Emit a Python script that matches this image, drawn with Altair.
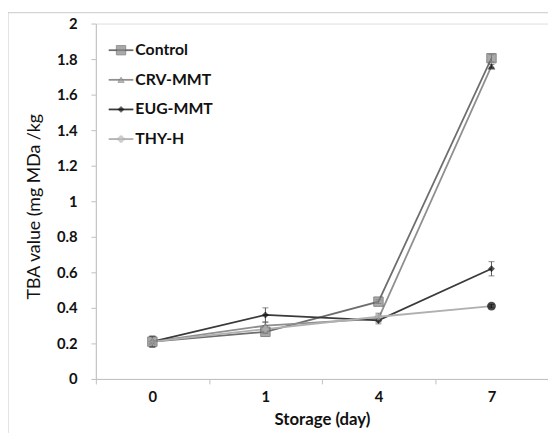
import altair as alt
import pandas as pd

# ---- data ----
days = ["0", "1", "4", "7"]
series_names = ["Control", "CRV-MMT", "EUG-MMT", "THY-H"]
control = [0.21, 0.265, 0.435, 1.805]
crv_mmt = [0.21, 0.30, 0.34, 1.76]
eug_mmt = [0.21, 0.36, 0.33, 0.62]
thy_h = [0.21, 0.28, 0.35, 0.41]
control_err = [0.03, 0.01, 0.01, 0.02]
crv_err = [0.03, 0.02, 0.02, 0.01]
eug_err = [0.03, 0.04, 0.02, 0.04]
thy_err = [0.03, 0.02, 0.02, 0.01]
y_ticks = [0, 0.2, 0.4, 0.6, 0.8, 1.0, 1.2, 1.4, 1.6, 1.8, 2.0]

values = [control, crv_mmt, eug_mmt, thy_h]
errors = [control_err, crv_err, eug_err, thy_err]

rows = []
for name, vals, errs in zip(series_names, values, errors):
    for d, v, e in zip(days, vals, errs):
        rows.append({"series": name, "day": d, "value": v, "lo": v - e, "hi": v + e})
df = pd.DataFrame(rows)

FONT = "Lato"
AXIS_GRAY = "#bfbfbf"
TXT = "#111111"

style = {
    "Control": dict(line="#6e6e6e", shape="square", size=90, fill="#858585", stroke="#555555"),
    "CRV-MMT": dict(line="#8f8f8f", shape="triangle-up", size=40, fill="#9a9a9a", stroke="#777777"),
    "EUG-MMT": dict(line="#3a3a3a", shape="diamond", size=35, fill="#111111", stroke="#111111"),
    "THY-H": dict(line="#b0b0b0", shape="cross", size=40, fill="#c0c0c0", stroke="#aaaaaa"),
}

x_enc = alt.X(
    "day:O",
    sort=days,
    scale=alt.Scale(type="band", paddingInner=0, paddingOuter=0),
    axis=alt.Axis(
        title="Storage (day)",
        labelAngle=0,
        tickBand="extent",
        domainColor=AXIS_GRAY,
        tickColor=AXIS_GRAY,
        tickSize=5,
        labelFont=FONT,
        labelFontWeight="bold",
        labelFontSize=15,
        labelColor=TXT,
        labelPadding=6,
        titleFont=FONT,
        titleFontWeight="bold",
        titleFontSize=17,
        titleColor=TXT,
        titleY=41,
        titleBaseline="middle",
    ),
)
y_scale = alt.Scale(domain=[0, 2], nice=False, zero=True)
y_axis = alt.Axis(
    title="TBA value (mg MDa /kg",
    values=y_ticks,
    format="~g",
    grid=False,
    labelOverlap=False,
    domainColor=AXIS_GRAY,
    tickColor=AXIS_GRAY,
    tickSize=5,
    labelFont=FONT,
    labelFontWeight="bold",
    labelFontSize=15,
    labelColor=TXT,
    labelPadding=14,
    titleFont=FONT,
    titleFontWeight="normal",
    titleFontSize=18,
    titleColor=TXT,
    titleX=-62,
    titleY=185,
    titleBaseline="middle",
)
y_enc = alt.Y("value:Q", scale=y_scale, axis=y_axis)
y_lo = alt.Y("lo:Q", scale=y_scale, axis=y_axis)
y_hi = alt.Y("hi:Q", scale=y_scale, axis=y_axis)

base = alt.Chart(df)
layers = []

# lines
for name in series_names:
    s = style[name]
    sub = base.transform_filter(alt.datum.series == name)
    layers.append(sub.mark_line(color=s["line"], strokeWidth=1.8).encode(x=x_enc, y=y_enc))

# error bars
for name in series_names:
    sub = base.transform_filter(alt.datum.series == name)
    layers.append(sub.mark_rule(color="#555555", strokeWidth=1).encode(
        x=x_enc, y=y_lo, y2="hi:Q"))
    layers.append(sub.mark_tick(color="#555555", thickness=1, size=6).encode(x=x_enc, y=y_lo))
    layers.append(sub.mark_tick(color="#555555", thickness=1, size=6).encode(x=x_enc, y=y_hi))

# markers
for name in series_names:
    s = style[name]
    sub = base.transform_filter(alt.datum.series == name)
    if name == "THY-H":
        layers.append(sub.transform_filter(alt.datum.day != "7").mark_point(
            shape=s["shape"], size=s["size"], filled=True, color=s["fill"],
            stroke=s["stroke"], strokeWidth=0.8).encode(x=x_enc, y=y_enc))
        layers.append(sub.transform_filter(alt.datum.day == "7").mark_point(
            shape="circle", size=80, filled=True, color="#000000").encode(x=x_enc, y=y_enc))
    elif name == "CRV-MMT":
        layers.append(sub.transform_filter(alt.datum.day != "7").mark_point(
            shape=s["shape"], size=s["size"], filled=True, color=s["fill"],
            stroke=s["stroke"], strokeWidth=0.8).encode(x=x_enc, y=y_enc))
        layers.append(sub.transform_filter(alt.datum.day == "7").mark_point(
            shape="triangle-up", size=60, filled=True, color="#111111").encode(x=x_enc, y=y_enc))
    else:
        layers.append(sub.mark_point(
            shape=s["shape"], size=s["size"], filled=True, color=s["fill"],
            stroke=s["stroke"], strokeWidth=1).encode(x=x_enc, y=y_enc))

# chart-area border
border = alt.Chart(pd.DataFrame({"a": [0]})).mark_rect(
    fill="white", fillOpacity=0, stroke="#c8c8c8", strokeWidth=1
).encode(x=alt.value(-89), x2=alt.value(480), y=alt.value(-11), y2=alt.value(430))
layers.append(border)

# manual legend (top-left inside plot)
leg_df = pd.DataFrame({"series": series_names})
leg_y0, leg_dy = 27, 30
for i, name in enumerate(series_names):
    s = style[name]
    ypx = leg_y0 + i * leg_dy
    one = alt.Chart(leg_df).transform_filter(alt.datum.series == name)
    layers.append(one.mark_rule(color=s["line"], strokeWidth=1.8).encode(
        x=alt.value(13), x2=alt.value(38), y=alt.value(ypx)))
    layers.append(one.mark_point(shape=s["shape"], size=s["size"], filled=True,
                                 color=s["fill"], stroke=s["stroke"], strokeWidth=0.8).encode(
        x=alt.value(25.5), y=alt.value(ypx)))
    layers.append(one.mark_text(align="left", baseline="middle", font=FONT,
                                fontWeight="bold", fontSize=16, color=TXT).encode(
        x=alt.value(40), y=alt.value(ypx), text="series:N"))

chart = alt.layer(*layers).properties(
    width=458,
    height=360,
    autosize=alt.AutoSizeParams(type="none"),
    padding={"left": 89, "top": 13, "right": 0, "bottom": 52},
).configure_view(stroke=None).configure(background="white")

chart.save("out.html", embed_options={"renderer": "svg", "actions": False})
